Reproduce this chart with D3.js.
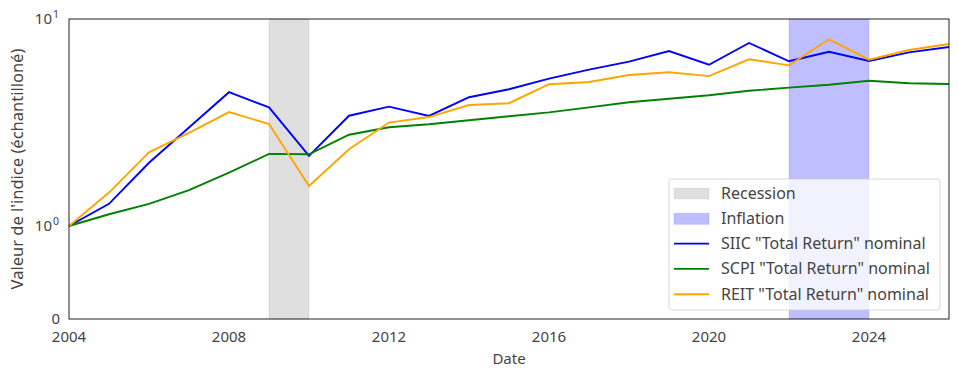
<!DOCTYPE html>
<html>
<head>
<meta charset="utf-8">
<script src="https://cdn.jsdelivr.net/npm/d3@7"></script>
<style>
  body { margin: 0; background: #fff; }
  text { font-family: "Noto Sans", sans-serif; fill: #444; }
</style>
</head>
<body>
<svg id="chart" width="958" height="378"></svg>
<script>
var years = d3.range(2004, 2027);
var siic = [1.0, 1.28, 2.02, 2.99, 4.43, 3.74, 2.18, 3.41, 3.77, 3.40, 4.19, 4.58, 5.15, 5.69, 6.22, 7.00, 6.01, 7.66, 6.25, 6.95, 6.27, 6.90, 7.32];
var scpi = [1.0, 1.14, 1.28, 1.49, 1.81, 2.23, 2.22, 2.76, 3.00, 3.10, 3.24, 3.39, 3.54, 3.74, 3.96, 4.12, 4.28, 4.50, 4.66, 4.81, 5.03, 4.89, 4.85];
var reit = [1.0, 1.45, 2.27, 2.82, 3.55, 3.11, 1.56, 2.35, 3.16, 3.36, 3.84, 3.92, 4.84, 4.96, 5.36, 5.53, 5.30, 6.39, 5.97, 7.98, 6.36, 7.08, 7.57];
var seriesNames = ['SIIC "Total Return" nominal', 'SCPI "Total Return" nominal', 'REIT "Total Return" nominal'];
var seriesColors = ["#0000ff", "#008000", "#ffa500"];
var spans = [
    {label: "Recession", start: 2009, end: 2010},
    {label: "Inflation", start: 2022, end: 2024}
];
var xTicks = [2004, 2008, 2012, 2016, 2020, 2024];

var pLeft = 69, pRight = 949, pTop = 19, pBottom = 319;
var svg = d3.select("#chart");

var x = d3.scaleLinear().domain([2004, 2026]).range([pLeft, pRight]);
// symlog-like: linear between 0 and 1, log above 1
var yLin = d3.scaleLinear().domain([0, 1]).range([pBottom, 226]);
var yLog = d3.scaleLog().domain([1, 10]).range([226, pTop]);
function y(v) { return v <= 1 ? yLin(v) : yLog(v); }

// shaded periods
svg.append("rect")
    .attr("x", x(spans[0].start)).attr("y", pTop)
    .attr("width", x(spans[0].end) - x(spans[0].start)).attr("height", pBottom - pTop)
    .attr("fill", "#808080").attr("fill-opacity", 0.25)
    .attr("stroke", "#808080").attr("stroke-opacity", 0.15);
svg.append("rect")
    .attr("x", x(spans[1].start)).attr("y", pTop)
    .attr("width", x(spans[1].end) - x(spans[1].start)).attr("height", pBottom - pTop)
    .attr("fill", "#0000ff").attr("fill-opacity", 0.25)
    .attr("stroke", "#0000ff").attr("stroke-opacity", 0.1);

var line = d3.line()
    .x(function (d) { return x(d.year); })
    .y(function (d) { return y(d.value); });

[siic, scpi, reit].forEach(function (vals, i) {
    var pts = years.map(function (yr, j) { return {year: yr, value: vals[j]}; });
    svg.append("path")
        .datum(pts)
        .attr("d", line)
        .attr("fill", "none")
        .attr("stroke", seriesColors[i])
        .attr("stroke-width", 1.9);
});

// frame
svg.append("rect")
    .attr("x", pLeft).attr("y", pTop)
    .attr("width", pRight - pLeft).attr("height", pBottom - pTop)
    .attr("fill", "none").attr("stroke", "#222").attr("stroke-width", 1);

// x ticks
svg.selectAll("text.xtick").data(xTicks).enter().append("text")
    .attr("class", "xtick")
    .attr("x", function (d) { return x(d); })
    .attr("y", 342)
    .attr("text-anchor", "middle")
    .style("font-size", "15px")
    .text(function (d) { return d; });

// y ticks
var yt = svg.append("g");
yt.append("text").attr("x", 60).attr("y", y(0) + 5).attr("text-anchor", "end")
    .style("font-size", "15px").text("0");
[[1, "0"], [10, "1"]].forEach(function (t) {
    yt.append("text").attr("x", 52).attr("y", y(t[0]) + 5).attr("text-anchor", "end")
        .style("font-size", "15px").text("10");
    yt.append("text").attr("x", 53).attr("y", y(t[0]) - 1)
        .style("font-size", "10.5px").text(t[1]);
});

// axis labels
svg.append("text")
    .attr("x", (pLeft + pRight) / 2).attr("y", 364)
    .attr("text-anchor", "middle")
    .style("font-size", "15px")
    .text("Date");
svg.append("text")
    .attr("transform", "translate(23," + ((pTop + pBottom) / 2) + ") rotate(-90)")
    .attr("text-anchor", "middle")
    .style("font-size", "16.5px")
    .text("Valeur de l'indice (échantilloné)");

// legend
var lg = svg.append("g").attr("transform", "translate(669,179)");
lg.append("rect")
    .attr("width", 271).attr("height", 131).attr("rx", 3)
    .attr("fill", "#fff").attr("fill-opacity", 0.8)
    .attr("stroke", "#ccc").attr("stroke-opacity", 0.8);
var rowH = 25.3, rowY0 = 14;
spans.forEach(function (s, i) {
    lg.append("rect")
        .attr("x", 5).attr("y", rowY0 + i * rowH - 5)
        .attr("width", 35).attr("height", 11)
        .attr("fill", i === 0 ? "#808080" : "#0000ff").attr("fill-opacity", 0.25)
        .attr("stroke", i === 0 ? "#808080" : "#0000ff").attr("stroke-opacity", 0.12);
    lg.append("text")
        .attr("x", 52).attr("y", rowY0 + i * rowH + 5.5)
        .style("font-size", "16px")
        .text(s.label);
});
seriesNames.forEach(function (name, i) {
    var ry = rowY0 + (i + 2) * rowH;
    lg.append("line")
        .attr("x1", 5).attr("x2", 40).attr("y1", ry).attr("y2", ry)
        .attr("stroke", seriesColors[i]).attr("stroke-width", 1.9);
    lg.append("text")
        .attr("x", 52).attr("y", ry + 5.5)
        .style("font-size", "16px")
        .text(name);
});
</script>
</body>
</html>
